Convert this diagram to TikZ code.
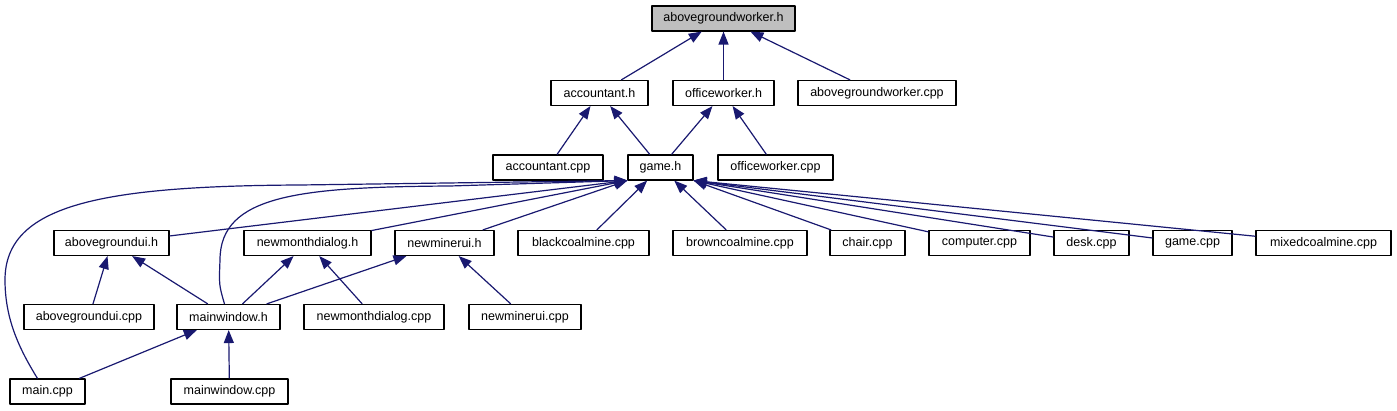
\documentclass[tikz,border=0pt]{standalone}
\usepackage{fontspec}
\setmainfont{Liberation Sans}
\usepackage{xcolor}
\usepackage{tikz}
\usetikzlibrary{arrows.meta,positioning}
\definecolor{edgeblue}{HTML}{191970}
\definecolor{rootgray}{HTML}{BFBFBF}

\begin{document}
\begin{tikzpicture}[x=1pt, y=-1pt, line join=round,
  file/.style={draw=black, line width=1.1pt, fill=white, inner sep=0pt,
    minimum height=25pt, font=\fontsize{12.5}{14}\selectfont},
  dep/.style={draw=edgeblue, line width=1.2pt, -{Triangle[length=13pt,width=10pt]}}]
\useasboundingbox (0,0) rectangle (1397,411);
\node[file, fill=rootgray, minimum width=143pt] (abvwh) at (723.5,18.5) {abovegroundworker.h};
\node[file, minimum width=97pt]  (acch)    at (599.5,93) {accountant.h};
\node[file, minimum width=101pt] (offh)    at (723.5,93) {officeworker.h};
\node[file, minimum width=158pt] (abvwcpp) at (877,93) {abovegroundworker.cpp};
\node[file, minimum width=110pt] (acccpp)  at (548,167.5) {accountant.cpp};
\node[file, minimum width=65pt]  (gameh)   at (660.5,167.5) {game.h};
\node[file, minimum width=115pt] (offcpp)  at (775.5,167.5) {officeworker.cpp};
\node[file, minimum width=115pt] (auih)    at (111.5,243) {abovegroundui.h};
\node[file, minimum width=127pt] (nmdh)    at (307.5,243) {newmonthdialog.h};
\node[file, minimum width=99pt]  (nmuh)    at (444.5,243) {newminerui.h};
\node[file, minimum width=131pt] (black)   at (583.5,243) {blackcoalmine.cpp};
\node[file, minimum width=134pt] (brown)   at (740,243) {browncoalmine.cpp};
\node[file, minimum width=75pt]  (chair)   at (867.5,243) {chair.cpp};
\node[file, minimum width=101pt] (comp)    at (979.5,243) {computer.cpp};
\node[file, minimum width=75pt]  (desk)    at (1091.5,243) {desk.cpp};
\node[file, minimum width=79pt]  (gamecpp) at (1192.5,243) {game.cpp};
\node[file, minimum width=135pt] (mixed)   at (1323.5,243) {mixedcoalmine.cpp};
\node[file, minimum width=130pt] (auicpp)  at (89,317) {abovegroundui.cpp};
\node[file, minimum width=103pt] (mwh)     at (228.5,317) {mainwindow.h};
\node[file, minimum width=140pt] (nmdcpp)  at (374,317) {newmonthdialog.cpp};
\node[file, minimum width=112pt] (nmucpp)  at (525,317) {newminerui.cpp};
\node[file, minimum width=75pt]  (maincpp) at (47.5,391.5) {main.cpp};
\node[file, minimum width=117pt] (mwcpp)   at (229.5,391.5) {mainwindow.cpp};

\draw[dep] (acch) -- (abvwh);
\draw[dep] (offh) -- (abvwh);
\draw[dep] (abvwcpp) -- (abvwh);
\draw[dep] (acccpp) -- (acch);
\draw[dep] (gameh) -- (acch);
\draw[dep] (gameh) -- (offh);
\draw[dep] (offcpp) -- (offh);
\draw[dep] (auih) -- (gameh.south west);
\draw[dep] (nmdh) -- (gameh.south west);
\draw[dep] (nmuh) -- (gameh.south west);
\draw[dep] (black) -- (gameh);
\draw[dep] (brown) -- (gameh);
\draw[dep] (chair) -- (gameh.south east);
\draw[dep] (comp) -- (gameh.south east);
\draw[dep] (desk) -- (gameh.south east);
\draw[dep] (gamecpp) -- (gameh.south east);
\draw[dep] (mixed) -- (gameh.south east);
\draw[dep] ([xshift=-10pt]maincpp.north) .. controls (20,350) and (5,320) .. (5,280)
  .. controls (5,205) and (100,186) .. (300,185) -- (gameh.south west);
\draw[dep] ([xshift=-4pt]mwh.north) .. controls (219,285) .. (220,260)
  .. controls (220,195) and (300,187) .. (450,186) -- (gameh.south west);
\draw[dep] (auicpp) -- (auih);
\draw[dep] (mwh) -- (auih);
\draw[dep] (mwh) -- (nmdh);
\draw[dep] (nmdcpp) -- (nmdh);
\draw[dep] (mwh) -- (nmuh);
\draw[dep] (nmucpp) -- (nmuh);
\draw[dep] (maincpp) -- (mwh);
\draw[dep] (mwcpp) -- (mwh);
\end{tikzpicture}
\end{document}
